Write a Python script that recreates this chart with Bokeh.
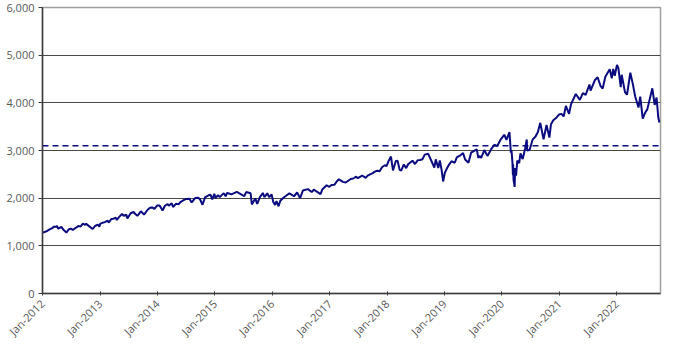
import math
from datetime import datetime
import pandas as pd
from bokeh.plotting import figure
from bokeh.models import (FixedTicker, DatetimeTickFormatter, NumeralTickFormatter,
                          Span, Range1d)
from bokeh.embed import file_html
from bokeh.resources import INLINE

# ---------------- data ----------------
dates = [
    "2012-01-03", "2012-01-13", "2012-01-31", "2012-02-15", "2012-02-29", "2012-03-15", "2012-03-30",
    "2012-04-02", "2012-04-10", "2012-04-20", "2012-04-30", "2012-05-15", "2012-06-01", "2012-06-15",
    "2012-06-29", "2012-07-12", "2012-07-31", "2012-08-16", "2012-08-31", "2012-09-14", "2012-09-28",
    "2012-10-05", "2012-10-23", "2012-11-15", "2012-11-30", "2012-12-18", "2012-12-28",
    "2013-01-02", "2013-01-18", "2013-01-31", "2013-02-19", "2013-02-25", "2013-03-14", "2013-03-28",
    "2013-04-11", "2013-04-18", "2013-04-30", "2013-05-21", "2013-05-31", "2013-06-18", "2013-06-24",
    "2013-07-15", "2013-08-02", "2013-08-15", "2013-08-27", "2013-09-18", "2013-10-08", "2013-10-31",
    "2013-11-15", "2013-11-29", "2013-12-13", "2013-12-31",
    "2014-01-15", "2014-02-03", "2014-02-18", "2014-03-07", "2014-03-14", "2014-04-02", "2014-04-11",
    "2014-04-30", "2014-05-15", "2014-05-30", "2014-06-20", "2014-07-03", "2014-07-24", "2014-08-07",
    "2014-08-29", "2014-09-18", "2014-09-30", "2014-10-15", "2014-10-31", "2014-11-28", "2014-12-05",
    "2014-12-16", "2014-12-29",
    "2015-01-06", "2015-01-22", "2015-02-02", "2015-02-27", "2015-03-11", "2015-03-20", "2015-04-17",
    "2015-05-21", "2015-06-15", "2015-06-29", "2015-07-08", "2015-07-20", "2015-08-17", "2015-08-25",
    "2015-09-16", "2015-09-28", "2015-10-15", "2015-11-03", "2015-11-13", "2015-12-01", "2015-12-14",
    "2015-12-29",
    "2016-01-08", "2016-01-20", "2016-01-29", "2016-02-11", "2016-02-22", "2016-03-15", "2016-04-20",
    "2016-05-19", "2016-06-08", "2016-06-27", "2016-07-15", "2016-08-15", "2016-09-09", "2016-09-22",
    "2016-10-14", "2016-11-04", "2016-11-15", "2016-12-13", "2016-12-30",
    "2017-01-13", "2017-01-31", "2017-02-15", "2017-03-01", "2017-03-27", "2017-04-13", "2017-05-15",
    "2017-05-31", "2017-06-19", "2017-06-29", "2017-07-27", "2017-08-18", "2017-08-31", "2017-09-15",
    "2017-09-29", "2017-10-16", "2017-10-31", "2017-11-15", "2017-11-30", "2017-12-18", "2017-12-29",
    "2018-01-12", "2018-01-26", "2018-02-08", "2018-02-26", "2018-03-09", "2018-03-23", "2018-04-02",
    "2018-04-18", "2018-05-03", "2018-05-15", "2018-06-12", "2018-06-28", "2018-07-16", "2018-07-30",
    "2018-08-15", "2018-08-29", "2018-09-20", "2018-10-10", "2018-10-29", "2018-11-07", "2018-11-23",
    "2018-12-03", "2018-12-14", "2018-12-24",
    "2019-01-04", "2019-01-15", "2019-01-31", "2019-02-15", "2019-03-08", "2019-03-21", "2019-04-15",
    "2019-04-30", "2019-05-13", "2019-06-03", "2019-06-20", "2019-07-26", "2019-08-05", "2019-08-12",
    "2019-08-23", "2019-09-12", "2019-10-02", "2019-10-25", "2019-11-15", "2019-12-03", "2019-12-27",
    "2020-01-17", "2020-01-31", "2020-02-19", "2020-02-28", "2020-03-03", "2020-03-09", "2020-03-12",
    "2020-03-13", "2020-03-16", "2020-03-23", "2020-03-26", "2020-04-01", "2020-04-09", "2020-04-21",
    "2020-04-29", "2020-05-13", "2020-05-29", "2020-06-08", "2020-06-11", "2020-06-26", "2020-07-15",
    "2020-08-03", "2020-08-18", "2020-09-02", "2020-09-23", "2020-10-12", "2020-10-30", "2020-11-09",
    "2020-11-24", "2020-12-15", "2020-12-31",
    "2021-01-15", "2021-01-29", "2021-02-12", "2021-03-04", "2021-03-17", "2021-04-16", "2021-05-12",
    "2021-05-31", "2021-06-18", "2021-07-12", "2021-07-19", "2021-08-16", "2021-09-02", "2021-09-20",
    "2021-10-04", "2021-10-21", "2021-11-18", "2021-12-01", "2021-12-10", "2021-12-20",
    "2022-01-03", "2022-01-12", "2022-01-27", "2022-02-02", "2022-02-23", "2022-03-08", "2022-03-29",
    "2022-04-14", "2022-04-29", "2022-05-20", "2022-05-31", "2022-06-16", "2022-06-30", "2022-07-15",
    "2022-08-16", "2022-08-31", "2022-09-12", "2022-09-23", "2022-09-30",
]
values = [
    1277, 1289, 1312, 1344, 1366, 1402, 1408,
    1419, 1358, 1378, 1398, 1330, 1278, 1342,
    1362, 1334, 1379, 1415, 1407, 1465, 1441,
    1461, 1413, 1353, 1416, 1446, 1402,
    1462, 1486, 1498, 1530, 1488, 1563, 1569,
    1593, 1541, 1598, 1669, 1631, 1652, 1573,
    1683, 1710, 1662, 1630, 1725, 1655, 1757,
    1798, 1806, 1775, 1848,
    1848, 1741, 1840, 1878, 1841, 1890, 1815,
    1884, 1870, 1924, 1963, 1985, 1987, 1910,
    2003, 2011, 1972, 1862, 2018, 2068, 2075,
    1972, 2090,
    2003, 2063, 2021, 2105, 2040, 2108, 2081,
    2131, 2084, 2058, 2046, 2128, 2102, 1868,
    1995, 1881, 2023, 2109, 2023, 2102, 2021,
    2078,
    1922, 1859, 1940, 1829, 1945, 2015, 2102,
    2040, 2119, 2001, 2161, 2190, 2128, 2177,
    2133, 2085, 2180, 2271, 2239,
    2275, 2279, 2350, 2396, 2342, 2329, 2403,
    2412, 2453, 2419, 2475, 2426, 2472, 2500,
    2519, 2557, 2575, 2565, 2648, 2690, 2674,
    2786, 2873, 2581, 2780, 2786, 2588, 2582,
    2708, 2630, 2711, 2786, 2716, 2798, 2802,
    2818, 2914, 2931, 2785, 2641, 2814, 2633,
    2790, 2600, 2351,
    2532, 2610, 2704, 2775, 2743, 2855, 2905,
    2946, 2812, 2744, 2954, 3025, 2844, 2883,
    2847, 3009, 2887, 3022, 3120, 3093, 3240,
    3330, 3225, 3386, 2954, 3003, 2746, 2480,
    2711, 2386, 2237, 2630, 2470, 2790, 2737,
    2939, 2820, 3044, 3232, 3002, 3009, 3227,
    3294, 3389, 3580, 3237, 3534, 3270, 3550,
    3635, 3694, 3756,
    3768, 3714, 3934, 3768, 3974, 4185, 4063,
    4204, 4166, 4384, 4258, 4479, 4537, 4358,
    4300, 4549, 4704, 4513, 4712, 4568,
    4796, 4726, 4327, 4589, 4225, 4170, 4631,
    4392, 4132, 3901, 4132, 3667, 3785, 3863,
    4305, 3955, 4110, 3693, 3586,
]
reference_level = 3100
y_ticks = [0, 1000, 2000, 3000, 4000, 5000, 6000]
x_tick_years = list(range(2012, 2023))
x_start = "2012-01-01"
x_end = "2022-10-07"

# ---------------- plot ----------------
x = pd.to_datetime(dates)
FONT = "Open Sans"
TXT = "#595959"

p = figure(width=679, height=351, x_axis_type="datetime",
           output_backend="svg", toolbar_location=None,
           x_range=Range1d(pd.Timestamp(x_start), pd.Timestamp(x_end)),
           y_range=Range1d(0, 6000),
           min_border_left=42, min_border_right=19, min_border_top=7, min_border_bottom=58)

p.line(x, values, line_color="#0b0b80", line_width=2)

p.add_layout(Span(location=reference_level, dimension="width",
                  line_color="#0b0b80", line_width=1.5, line_dash="6 4"))

tick_ms = [pd.Timestamp(f"{y}-01-01").value / 1e6 for y in x_tick_years]
p.xaxis.ticker = FixedTicker(ticks=tick_ms)
fmt = "%b-%Y"
p.xaxis.formatter = DatetimeTickFormatter(years=fmt, months=fmt, days=fmt, hours=fmt,
                                          hourmin=fmt, minutes=fmt, minsec=fmt,
                                          seconds=fmt, milliseconds=fmt, microseconds=fmt)
p.xaxis.major_label_orientation = math.pi / 4
p.yaxis.ticker = FixedTicker(ticks=y_ticks)
p.yaxis.formatter = NumeralTickFormatter(format="0,0")

for ax in (p.xaxis, p.yaxis):
    ax.major_label_text_font = FONT
    ax.major_label_text_font_size = "11px"
    ax.major_label_text_color = TXT
    ax.axis_line_color = "#3c3c3c"
    ax.axis_line_width = 1.5
    ax.major_tick_line_color = "#3c3c3c"
    ax.minor_tick_line_color = None

p.yaxis.major_tick_out = 4
p.yaxis.major_tick_in = 0
p.yaxis.major_label_standoff = 4
p.xaxis.major_tick_in = 2
p.xaxis.major_tick_out = 2
p.xaxis.major_label_standoff = 6

p.xgrid.grid_line_color = None
p.ygrid.grid_line_color = "#4a4a4a"
p.ygrid.grid_line_width = 1
p.outline_line_color = "#a0a0a0"
p.outline_line_width = 1.5
p.background_fill_color = "white"
p.border_fill_color = "white"

open("out.html", "w").write(file_html(p, INLINE))
